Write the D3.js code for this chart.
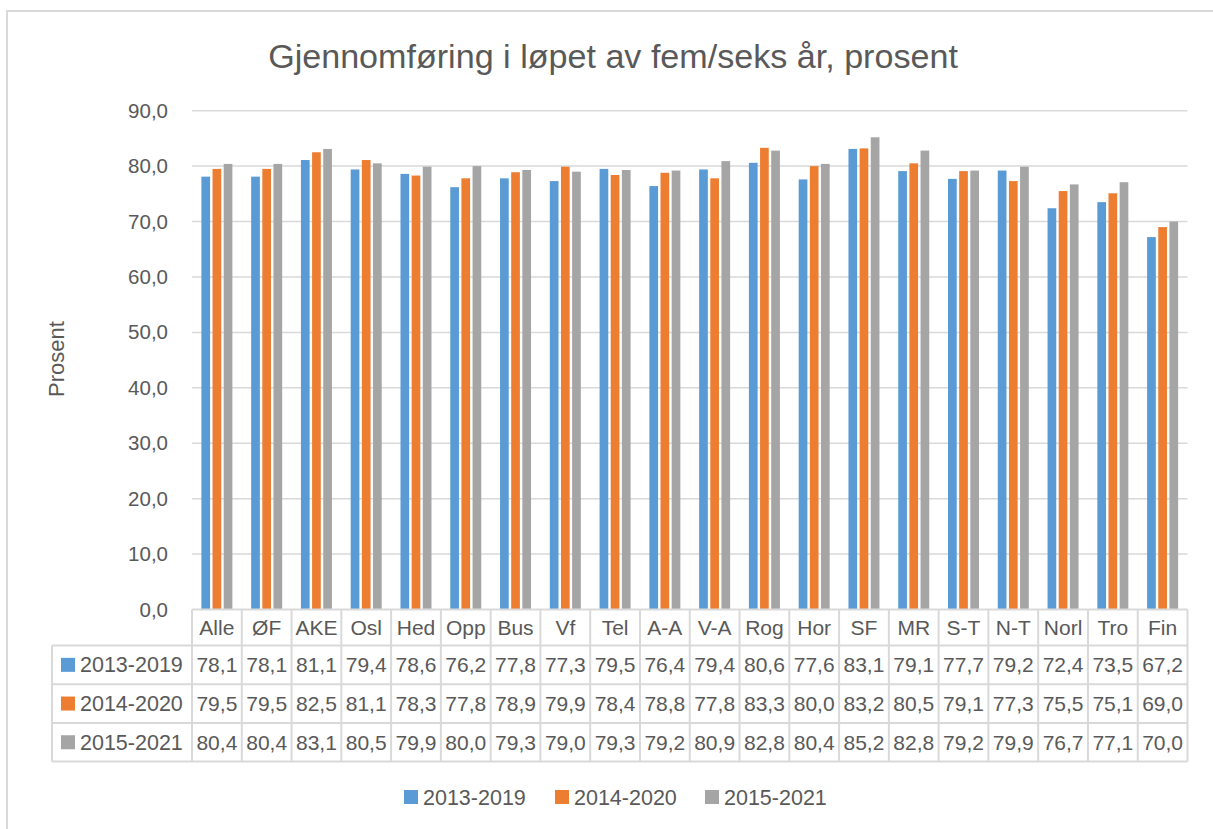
<!DOCTYPE html>
<html>
<head>
<meta charset="utf-8">
<script src="https://cdn.jsdelivr.net/npm/d3@7"></script>
<style>
  body { margin: 0; background: #fff; }
  text { font-family: "Liberation Sans", Arial, sans-serif; fill: #595959; }
</style>
</head>
<body>
<div id="chart"></div>
<script>
// data
var categories = ["Alle", "ØF", "AKE", "Osl", "Hed", "Opp", "Bus", "Vf", "Tel", "A-A",
                  "V-A", "Rog", "Hor", "SF", "MR", "S-T", "N-T", "Norl", "Tro", "Fin"];
var seriesNames = ["2013-2019", "2014-2020", "2015-2021"];
var s2013 = [78.1, 78.1, 81.1, 79.4, 78.6, 76.2, 77.8, 77.3, 79.5, 76.4, 79.4, 80.6, 77.6, 83.1, 79.1, 77.7, 79.2, 72.4, 73.5, 67.2];
var s2014 = [79.5, 79.5, 82.5, 81.1, 78.3, 77.8, 78.9, 79.9, 78.4, 78.8, 77.8, 83.3, 80.0, 83.2, 80.5, 79.1, 77.3, 75.5, 75.1, 69.0];
var s2015 = [80.4, 80.4, 83.1, 80.5, 79.9, 80.0, 79.3, 79.0, 79.3, 79.2, 80.9, 82.8, 80.4, 85.2, 82.8, 79.2, 79.9, 76.7, 77.1, 70.0];
var yTicks = [0, 10, 20, 30, 40, 50, 60, 70, 80, 90];
var colors = ["#5B9BD5", "#ED7D31", "#A5A5A5"];

var allSeries = [s2013, s2014, s2015];
var fmt = function (v) { return v.toFixed(1).replace(".", ","); };

var width = 1213, height = 829;
var svg = d3.select("#chart").append("svg")
    .attr("width", width)
    .attr("height", height);

// outer chart frame
svg.append("rect")
    .attr("x", 7).attr("y", 11)
    .attr("width", 1220).attr("height", 830)
    .attr("fill", "none")
    .attr("stroke", "#D9D9D9")
    .attr("stroke-width", 2);

var x = d3.scaleBand().domain(categories).range([192, 1187.5]);
var y = d3.scaleLinear().domain([0, 90]).range([609.5, 110.7]);
var xs = d3.scaleBand().domain(seriesNames)
    .range([(x.bandwidth() - 31) / 2, (x.bandwidth() + 31) / 2])
    .paddingInner(0.22);

// title
var title = svg.append("text")
    .attr("x", 613).attr("y", 68)
    .attr("text-anchor", "middle")
    .style("font-size", "32px")
    .text("Gjennomføring i løpet av fem/seks år, prosent");
var tw = title.node().getComputedTextLength();
title.style("font-size", (32 * 690 / tw) + "px");

// gridlines
svg.append("g").selectAll("line")
    .data(yTicks.filter(function (d) { return d > 0; }))
    .enter().append("line")
    .attr("x1", 192).attr("x2", 1187.5)
    .attr("y1", function (d) { return y(d); })
    .attr("y2", function (d) { return y(d); })
    .attr("stroke", "#D9D9D9")
    .attr("stroke-width", 1.5);

// y tick labels
svg.append("g").selectAll("text")
    .data(yTicks)
    .enter().append("text")
    .attr("x", 168)
    .attr("y", function (d) { return y(d) + 7; })
    .attr("text-anchor", "end")
    .style("font-size", "20.5px")
    .text(function (d) { return fmt(d); });

// y axis title
svg.append("text")
    .attr("transform", "translate(64,359) rotate(-90)")
    .attr("text-anchor", "middle")
    .style("font-size", "22px")
    .text("Prosent");

// bars
var groups = svg.append("g").selectAll("g")
    .data(categories)
    .enter().append("g")
    .attr("transform", function (d) { return "translate(" + x(d) + ",0)"; });

groups.selectAll("rect")
    .data(function (d, i) {
        return seriesNames.map(function (s, j) { return { s: s, v: allSeries[j][i], j: j }; });
    })
    .enter().append("rect")
    .attr("x", function (d) { return xs(d.s); })
    .attr("width", xs.bandwidth())
    .attr("y", function (d) { return y(d.v); })
    .attr("height", function (d) { return y(0) - y(d.v); })
    .attr("fill", function (d) { return colors[d.j]; });

// data table
var tableTop = 609.5, catRowH = 36, rowH = 38.7;
var tableLeft = 52;
var tbl = svg.append("g");
var lineColor = "#D9D9D9";

// horizontal lines
var hLines = [tableTop, tableTop + catRowH];
for (var r = 1; r <= 3; r++) hLines.push(tableTop + catRowH + r * rowH);
hLines.forEach(function (yy, i) {
    tbl.append("line")
        .attr("x1", i === 0 ? 192 : tableLeft).attr("x2", 1187.5)
        .attr("y1", yy).attr("y2", yy)
        .attr("stroke", lineColor).attr("stroke-width", 2);
});
// vertical lines
var tableBottom = tableTop + catRowH + 3 * rowH;
categories.forEach(function (c) {
    tbl.append("line")
        .attr("x1", x(c)).attr("x2", x(c))
        .attr("y1", tableTop).attr("y2", tableBottom)
        .attr("stroke", lineColor).attr("stroke-width", 2);
});
tbl.append("line")
    .attr("x1", 1187.5).attr("x2", 1187.5)
    .attr("y1", tableTop).attr("y2", tableBottom)
    .attr("stroke", lineColor).attr("stroke-width", 2);
tbl.append("line")
    .attr("x1", tableLeft).attr("x2", tableLeft)
    .attr("y1", tableTop + catRowH).attr("y2", tableBottom)
    .attr("stroke", lineColor).attr("stroke-width", 2);

// category labels
tbl.selectAll("text.cat")
    .data(categories)
    .enter().append("text")
    .attr("class", "cat")
    .attr("x", function (d) { return x(d) + x.bandwidth() / 2; })
    .attr("y", tableTop + catRowH / 2 + 7.5)
    .attr("text-anchor", "middle")
    .style("font-size", "21px")
    .text(function (d) { return d; });

// series rows
seriesNames.forEach(function (s, j) {
    var cy = tableTop + catRowH + j * rowH + rowH / 2;
    tbl.append("rect")
        .attr("x", 61).attr("y", cy - 7)
        .attr("width", 14).attr("height", 14)
        .attr("fill", colors[j]);
    tbl.append("text")
        .attr("x", 80).attr("y", cy + 7.5)
        .style("font-size", "21.5px")
        .text(s);
    tbl.selectAll("text.v" + j)
        .data(allSeries[j])
        .enter().append("text")
        .attr("class", "v" + j)
        .attr("x", function (d, i) { return x(categories[i]) + x.bandwidth() / 2; })
        .attr("y", cy + 7.5)
        .attr("text-anchor", "middle")
        .style("font-size", "21px")
        .text(function (d) { return fmt(d); });
});

// legend
var legendX = [404, 555, 705];
var legend = svg.append("g");
seriesNames.forEach(function (s, j) {
    legend.append("rect")
        .attr("x", legendX[j]).attr("y", 790)
        .attr("width", 14).attr("height", 14)
        .attr("fill", colors[j]);
    legend.append("text")
        .attr("x", legendX[j] + 19).attr("y", 804.5)
        .style("font-size", "21.5px")
        .text(s);
});
</script>
</body>
</html>
